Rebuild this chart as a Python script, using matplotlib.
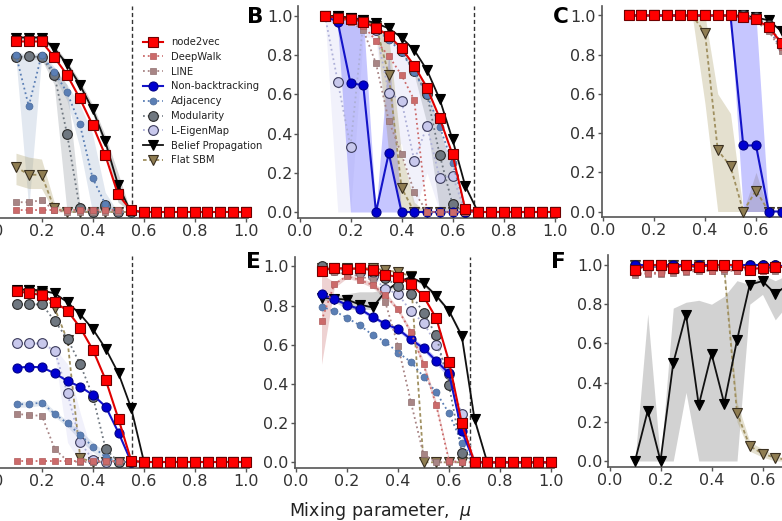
import numpy as np
import matplotlib
matplotlib.use("Agg")
import matplotlib.pyplot as plt

nan = float("nan")

# ---------------- data ----------------
mu = [0.10, 0.15, 0.20, 0.25, 0.30, 0.35, 0.40, 0.45, 0.50, 0.55,
      0.60, 0.65, 0.70, 0.75, 0.80, 0.85, 0.90, 0.95, 1.00]

methods = ["node2vec", "DeepWalk", "LINE", "Non-backtracking", "Adjacency",
           "Modularity", "L-EigenMap", "Belief Propagation", "Flat SBM"]

tick_values = [0.0, 0.2, 0.4, 0.6, 0.8, 1.0]
tick_labels = ["0.0", "0.2", "0.4", "0.6", "0.8", "1.0"]

# detectability limits (vertical dashed lines)
mu_star_top = [0.553, 0.684, 0.859]
mu_star_bottom = [0.553, 0.684, 0.859]

panel_A = {
    "node2vec": [0.87, 0.87, 0.87, 0.79, 0.70, 0.58, 0.445, 0.29, 0.09, 0.01] + [0.0] * 9,
    "DeepWalk": [0.01] * 10 + [0.0] * 9,
    "LINE": [0.05, 0.05, 0.06, 0.01, 0.0, 0.0, 0.0, 0.0, 0.0, 0.0] + [0.0] * 9,
    "Non-backtracking": [nan] * 19,
    "Adjacency": [0.80, 0.54, 0.80, 0.716, 0.61, 0.45, 0.175, 0.04, 0.0, 0.0] + [0.0] * 9,
    "Modularity": [0.79, 0.795, 0.79, 0.70, 0.40, 0.02, 0.0, 0.035, 0.0, 0.0] + [0.0] * 9,
    "L-EigenMap": [nan] * 19,
    "Belief Propagation": [0.89, 0.89, 0.89, 0.835, 0.755, 0.65, 0.525, 0.36, 0.14, 0.0] + [0.0] * 9,
    "Flat SBM": [0.23, 0.19, 0.19, 0.02, 0.0, 0.0, 0.0, 0.0, 0.0, 0.0] + [0.0] * 9,
}
bands_A = {
    "Adjacency": ([0.78, 0.02, 0.78, 0.69, 0.57, 0.33, 0.0, 0.0, 0.0, 0.0] + [0.0] * 9,
                  [0.82, 0.80, 0.82, 0.74, 0.65, 0.55, 0.40, 0.10, 0.0, 0.0] + [0.0] * 9),
    "Modularity": ([0.78, 0.78, 0.78, 0.65, 0.0, 0.0, 0.0, 0.0, 0.0, 0.0] + [0.0] * 9,
                   [0.80, 0.80, 0.80, 0.73, 0.65, 0.05, 0.0, 0.06, 0.0, 0.0] + [0.0] * 9),
    "Flat SBM": ([0.14, 0.12, 0.12, 0.0, 0.0, 0.0, 0.0, 0.0, 0.0, 0.0] + [0.0] * 9,
                 [0.30, 0.28, 0.27, 0.05, 0.0, 0.0, 0.0, 0.0, 0.0, 0.0] + [0.0] * 9),
    "Belief Propagation": ([0.88, 0.88, 0.88, 0.82, 0.74, 0.63, 0.50, 0.33, 0.05, 0.0] + [0.0] * 9,
                           [0.90, 0.90, 0.90, 0.85, 0.77, 0.67, 0.55, 0.39, 0.20, 0.0] + [0.0] * 9),
}

panel_B = {
    "node2vec": [1.0, 0.99, 0.985, 0.97, 0.94, 0.90, 0.835, 0.747, 0.634, 0.478, 0.294, 0.015] + [0.0] * 7,
    "DeepWalk": [1.0, 0.99, 0.97, 0.95, 0.874, 0.796, 0.699, 0.571, 0.0, 0.0, 0.0, 0.0] + [0.0] * 7,
    "LINE": [1.0, 0.99, 0.97, 0.929, 0.758, 0.466, 0.295, 0.104, 0.0, 0.0, 0.0, 0.0] + [0.0] * 7,
    "Non-backtracking": [1.0, 0.97, 0.656, 0.648, 0.0, 0.30, 0.0, 0.0, 0.0, 0.0, 0.0, 0.0] + [0.0] * 7,
    "Adjacency": [1.0, 0.99, 0.98, 0.96, 0.93, 0.88, 0.815, 0.716, 0.597, 0.435, 0.25, 0.02] + [0.0] * 7,
    "Modularity": [1.0, 0.99, 0.98, 0.97, 0.94, 0.89, 0.82, 0.72, 0.60, 0.29, 0.04, 0.0] + [0.0] * 7,
    "L-EigenMap": [1.0, 0.665, 0.333, 0.97, 0.93, 0.609, 0.568, 0.262, 0.439, 0.172, 0.185, 0.0] + [0.0] * 7,
    "Belief Propagation": [1.0, 1.0, 0.99, 0.98, 0.963, 0.937, 0.89, 0.826, 0.724, 0.575, 0.37, 0.133] + [0.0] * 7,
    "Flat SBM": [1.0, 1.0, 0.99, 0.98, 0.95, 0.70, 0.124, 0.0, 0.0, 0.0, 0.0, 0.0] + [0.0] * 7,
}
bands_B = {
    "Non-backtracking": ([1.0, 0.94, 0.0, 0.0, 0.0, 0.0, 0.0, 0.0, 0.0, 0.0, 0.0, 0.0] + [0.0] * 7,
                         [1.0, 1.0, 1.0, 1.0, 0.0, 0.82, 0.0, 0.0, 0.0, 0.0, 0.0, 0.0] + [0.0] * 7),
    "L-EigenMap": ([1.0, 0.0, 0.0, 0.90, 0.88, 0.30, 0.35, 0.0, 0.20, 0.0, 0.0, 0.0] + [0.0] * 7,
                   [1.0, 1.0, 1.0, 1.0, 0.97, 0.90, 0.82, 0.72, 0.60, 0.43, 0.30, 0.0] + [0.0] * 7),
    "Modularity": ([1.0, 0.99, 0.98, 0.97, 0.94, 0.89, 0.82, 0.70, 0.45, 0.0, 0.0, 0.0] + [0.0] * 7,
                   [1.0, 0.99, 0.98, 0.97, 0.94, 0.89, 0.82, 0.74, 0.65, 0.42, 0.22, 0.0] + [0.0] * 7),
    "Flat SBM": ([1.0, 1.0, 0.99, 0.98, 0.95, 0.30, 0.0, 0.0, 0.0, 0.0, 0.0, 0.0] + [0.0] * 7,
                 [1.0, 1.0, 0.99, 0.98, 0.95, 0.90, 0.30, 0.05, 0.0, 0.0, 0.0, 0.0] + [0.0] * 7),
}

panel_C = {
    "node2vec": [1.0] * 9 + [0.99, 0.98, 0.94, 0.86, 0.70, 0.45, 0.15, 0.0, 0.0, 0.0],
    "DeepWalk": [1.0] * 9 + [0.99, 0.97, 0.93, 0.84, 0.65, 0.40, 0.10, 0.0, 0.0, 0.0],
    "LINE": [1.0] * 9 + [0.99, 0.97, 0.92, 0.82, 0.60, 0.35, 0.10, 0.0, 0.0, 0.0],
    "Non-backtracking": [1.0] * 9 + [0.337, 0.337, 0.0, 0.0, 0.0, 0.0, 0.0, 0.0, 0.0, 0.0],
    "Adjacency": [1.0] * 9 + [1.0, 0.98, 0.93, 0.83, 0.65, 0.40, 0.12, 0.0, 0.0, 0.0],
    "Modularity": [1.0] * 9 + [1.0, 0.99, 0.95, 0.86, 0.70, 0.45, 0.15, 0.0, 0.0, 0.0],
    "L-EigenMap": [1.0] * 9 + [1.0, 0.98, 0.94, 0.85, 0.68, 0.42, 0.12, 0.0, 0.0, 0.0],
    "Belief Propagation": [1.0] * 9 + [1.0, 0.99, 0.975, 0.92, 0.80, 0.60, 0.30, 0.05, 0.0, 0.0],
    "Flat SBM": [1.0] * 6 + [0.912, 0.313, 0.231, 0.0, 0.107, 0.0, 0.0, 0.0, 0.0, 0.0, 0.0, 0.0, 0.0],
}
bands_C = {
    "Flat SBM": ([1.0] * 6 + [0.55, 0.0, 0.0, 0.0, 0.0, 0.0, 0.0, 0.0, 0.0, 0.0, 0.0, 0.0, 0.0],
                 [1.0] * 6 + [1.0, 0.60, 0.50, 0.0, 0.20, 0.0, 0.0, 0.0, 0.0, 0.0, 0.0, 0.0, 0.0]),
    "Non-backtracking": ([1.0] * 9 + [0.0, 0.0, 0.0, 0.0, 0.0, 0.0, 0.0, 0.0, 0.0, 0.0],
                         [1.0] * 9 + [1.0, 1.0, 0.0, 0.0, 0.0, 0.0, 0.0, 0.0, 0.0, 0.0]),
}

panel_D = {
    "node2vec": [0.872, 0.861, 0.852, 0.815, 0.772, 0.685, 0.571, 0.418, 0.219, 0.007] + [0.0] * 9,
    "DeepWalk": [0.005] * 10 + [0.0] * 9,
    "LINE": [0.245, 0.24, 0.235, 0.066, 0.005, 0.0, 0.0, 0.0, 0.0, 0.0] + [0.0] * 9,
    "Non-backtracking": [0.481, 0.486, 0.483, 0.452, 0.413, 0.384, 0.342, 0.282, 0.15, 0.0] + [0.0] * 9,
    "Adjacency": [0.294, 0.296, 0.303, 0.245, 0.197, 0.138, 0.078, 0.024, 0.0, 0.0] + [0.0] * 9,
    "Modularity": [0.804, 0.804, 0.804, 0.719, 0.628, 0.498, 0.333, 0.065, 0.0, 0.0] + [0.0] * 9,
    "L-EigenMap": [0.605, 0.605, 0.605, 0.568, 0.35, 0.10, 0.01, 0.0, 0.0, 0.0] + [0.0] * 9,
    "Belief Propagation": [0.88, 0.88, 0.875, 0.86, 0.815, 0.753, 0.677, 0.577, 0.452, 0.274] + [0.0] * 9,
    "Flat SBM": [0.87, 0.88, 0.86, 0.784, 0.62, 0.02, 0.0, 0.0, 0.0, 0.0] + [0.0] * 9,
}
bands_D = {
    "L-EigenMap": ([0.60, 0.60, 0.60, 0.55, 0.10, 0.0, 0.0, 0.0, 0.0, 0.0] + [0.0] * 9,
                   [0.61, 0.61, 0.61, 0.58, 0.50, 0.25, 0.03, 0.0, 0.0, 0.0] + [0.0] * 9),
    "Adjacency": ([0.28, 0.28, 0.29, 0.23, 0.18, 0.11, 0.05, 0.0, 0.0, 0.0] + [0.0] * 9,
                  [0.31, 0.31, 0.32, 0.26, 0.21, 0.16, 0.10, 0.05, 0.0, 0.0] + [0.0] * 9),
}

panel_E = {
    "node2vec": [0.976, 0.993, 0.985, 0.99, 0.98, 0.956, 0.947, 0.91, 0.847, 0.735, 0.514, 0.20, 0.0] + [0.0] * 6,
    "DeepWalk": [0.722, 0.908, 0.95, 0.93, 0.905, 0.853, 0.78, 0.666, 0.50, 0.29, 0.008, 0.0, 0.0] + [0.0] * 6,
    "LINE": [0.976, 0.97, 0.96, 0.95, 0.93, 0.818, 0.595, 0.31, 0.04, 0.0, 0.0, 0.0, 0.0] + [0.0] * 6,
    "Non-backtracking": [0.857, 0.833, 0.803, 0.782, 0.743, 0.706, 0.68, 0.628, 0.582, 0.517, 0.454, 0.16, 0.0] + [0.0] * 6,
    "Adjacency": [0.794, 0.772, 0.737, 0.699, 0.65, 0.615, 0.56, 0.513, 0.437, 0.357, 0.25, 0.10, 0.0] + [0.0] * 6,
    "Modularity": [1.0, 0.99, 0.99, 0.985, 0.97, 0.939, 0.90, 0.86, 0.764, 0.647, 0.392, 0.05, 0.0] + [0.0] * 6,
    "L-EigenMap": [0.98, 0.98, 0.98, 0.97, 0.95, 0.884, 0.86, 0.77, 0.713, 0.60, 0.45, 0.245, 0.0] + [0.0] * 6,
    "Belief Propagation": [0.84, 0.835, 0.83, 0.805, 0.79, 0.87, 0.92, 0.945, 0.913, 0.85, 0.773, 0.645, 0.22] + [0.0] * 6,
    "Flat SBM": [0.99, 0.99, 0.99, 0.99, 0.99, 0.98, 0.97, 0.95, 0.0, 0.0, 0.0, 0.0, 0.0] + [0.0] * 6,
}
bands_E = {
    "DeepWalk": ([0.50, 0.89, 0.94, 0.92, 0.89, 0.84, 0.77, 0.65, 0.48, 0.27, 0.0, 0.0, 0.0] + [0.0] * 6,
                 [0.96, 0.92, 0.96, 0.94, 0.92, 0.87, 0.79, 0.68, 0.52, 0.31, 0.02, 0.0, 0.0] + [0.0] * 6),
    "Belief Propagation": ([0.83, 0.82, 0.78, 0.78, 0.78, 0.86, 0.91, 0.94, 0.90, 0.84, 0.76, 0.63, 0.20] + [0.0] * 6,
                           [0.85, 0.85, 0.86, 0.87, 0.87, 0.88, 0.93, 0.95, 0.92, 0.86, 0.78, 0.66, 0.24] + [0.0] * 6),
    "Non-backtracking": ([0.85, 0.825, 0.795, 0.772, 0.733, 0.696, 0.668, 0.615, 0.568, 0.50, 0.43, 0.13, 0.0] + [0.0] * 6,
                         [0.865, 0.841, 0.811, 0.792, 0.753, 0.716, 0.692, 0.641, 0.596, 0.534, 0.478, 0.19, 0.0] + [0.0] * 6),
}

panel_F = {
    "node2vec": [0.974, 1.0, 1.0, 0.986, 1.0, 0.99, 1.0, 1.0, 1.0, 0.977, 0.986, 0.99, 0.99, 0.99, 0.98, 0.97, 0.95, 0.93, 0.90],
    "DeepWalk": [0.957, 0.96, 0.96, 0.97, 0.97, 0.98, 0.97, 0.98, 0.97, 0.98, 0.97, 0.98, 0.97, 0.96, 0.95, 0.93, 0.91, 0.88, 0.85],
    "LINE": [0.95, 0.955, 0.955, 0.96, 0.965, 0.97, 0.97, 0.97, 0.97, 0.97, 0.97, 0.97, 0.96, 0.95, 0.93, 0.91, 0.88, 0.85, 0.82],
    "Non-backtracking": [1.0] * 12 + [0.99, 0.99, 0.98, 0.97, 0.95, 0.93, 0.90],
    "Adjacency": [0.99] * 11 + [0.975, 0.97, 0.96, 0.95, 0.93, 0.90, 0.87, 0.83],
    "Modularity": [1.0] * 12 + [0.99, 0.99, 0.98, 0.97, 0.95, 0.93, 0.90],
    "L-EigenMap": [0.99] * 12 + [0.98, 0.97, 0.96, 0.95, 0.93, 0.90, 0.87],
    "Belief Propagation": [0.0, 0.257, 0.0, 0.50, 0.747, 0.285, 0.547, 0.293, 0.616, 0.90, 0.918, 0.853, 0.90, 0.92, 0.93, 0.95, 0.97, 0.98, 0.99],
    "Flat SBM": [1.0, 1.0, 1.0, 1.0, 1.0, 1.0, 1.0, 0.98, 0.246, 0.076, 0.038, 0.016, 0.005] + [0.0] * 6,
}
bands_F = {
    "Belief Propagation": ([0.0, 0.0, 0.0, 0.0, 0.35, 0.0, 0.0, 0.0, 0.0, 0.80, 0.85, 0.72, 0.80, 0.85, 0.88, 0.90, 0.93, 0.95, 0.97],
                           [0.0, 0.75, 0.0, 0.78, 0.81, 0.82, 0.80, 0.84, 0.92, 0.90, 0.95, 0.92, 0.95, 0.96, 0.97, 0.98, 0.99, 1.0, 1.0]),
    "Flat SBM": ([1.0, 1.0, 1.0, 1.0, 1.0, 1.0, 1.0, 0.96, 0.20, 0.05, 0.02, 0.0, 0.0] + [0.0] * 6,
                 [1.0, 1.0, 1.0, 1.0, 1.0, 1.0, 1.0, 1.0, 0.30, 0.10, 0.06, 0.03, 0.01] + [0.0] * 6),
}

# ---------------- styles ----------------
styles = {
    "node2vec": dict(color="#e00000", ls="-", lw=1.5, marker="s", ms=7.5, mfc="#ff0000", mec="#700000", mew=0.8),
    "DeepWalk": dict(color="#cc6a6a", ls=":", lw=1.3, marker="s", ms=5.0, mfc="#cc6a6a", mec="#b05a5a", mew=0.5),
    "LINE": dict(color="#a88585", ls=":", lw=1.3, marker="s", ms=5.0, mfc="#a88585", mec="#907070", mew=0.5),
    "Non-backtracking": dict(color="#1414c8", ls="-", lw=1.5, marker="o", ms=6.5, mfc="#0000d0", mec="#00008a", mew=0.8),
    "Adjacency": dict(color="#5b7fb5", ls=":", lw=1.3, marker="o", ms=5.0, mfc="#5b7fb5", mec="#4a6a9a", mew=0.5),
    "Modularity": dict(color="#6f7780", ls=":", lw=1.3, marker="o", ms=7.0, mfc="#6f7780", mec="#2a2a2a", mew=0.8),
    "L-EigenMap": dict(color="#aeb0d8", ls=":", lw=1.3, marker="o", ms=7.0, mfc="#c8c8ec", mec="#3a3a5a", mew=0.8),
    "Belief Propagation": dict(color="#111111", ls="-", lw=1.3, marker="v", ms=7.5, mfc="#000000", mec="#000000", mew=0.8),
    "Flat SBM": dict(color="#a09060", ls=(0, (2, 1.5)), lw=1.3, marker="v", ms=7.5, mfc="#8f7d52", mec="#3a3020", mew=0.8),
}
band_colors = {
    "node2vec": ("#ff0000", 0.15),
    "DeepWalk": ("#d08080", 0.35),
    "LINE": ("#a08080", 0.25),
    "Non-backtracking": ("#3333ff", 0.28),
    "Adjacency": ("#6080b0", 0.18),
    "Modularity": ("#606a74", 0.22),
    "L-EigenMap": ("#9090e0", 0.12),
    "Belief Propagation": ("#606060", 0.28),
    "Flat SBM": ("#a89a60", 0.30),
}

# ---------------- layout (pixel geometry) ----------------
W, H = 782, 521
fig = plt.figure(figsize=(W / 100, H / 100), dpi=100)

XS, YS = 255.0, 196.0
XLIM = (-0.005, 1.01)
YLIM = (-0.03, 1.05)


def add_ax(x0, y0):
    left = x0 + XLIM[0] * XS
    width = (XLIM[1] - XLIM[0]) * XS
    top = y0 - YLIM[1] * YS
    bottom = y0 - YLIM[0] * YS
    return fig.add_axes([left / W, (H - bottom) / H, width / W, (bottom - top) / H])


panels = [
    (panel_A, bands_A, (-9.5, 212.0), mu_star_top[0]),
    (panel_B, bands_B, (299.5, 212.0), mu_star_top[1]),
    (panel_C, bands_C, (603.0, 211.5), mu_star_top[2]),
    (panel_D, bands_D, (-9.0, 462.0), mu_star_bottom[0]),
    (panel_E, bands_E, (296.0, 462.3), mu_star_bottom[1]),
    (panel_F, bands_F, (609.5, 461.0), mu_star_bottom[2]),
]

x = np.array(mu)
axes = []
for data, bands, (x0, y0), mstar in panels:
    ax = add_ax(x0, y0)
    axes.append(ax)
    for name, (lo, hi) in bands.items():
        c, a = band_colors[name]
        ax.fill_between(x, lo, hi, color=c, alpha=a, lw=0, zorder=1)
    # draw in reverse order so node2vec is on top
    for i, name in enumerate(reversed(methods)):
        ax.plot(x, np.array(data[name], dtype=float), label=name, clip_on=False,
                zorder=3 + i, **styles[name])
    ax.axvline(mstar, color="#333333", ls=(0, (3, 2)), lw=1.0, zorder=2)
    ax.set_xlim(*XLIM)
    ax.set_ylim(*YLIM)
    ax.set_xticks(tick_values)
    ax.set_yticks(tick_values)
    # label only the ticks that are (at least partly) inside the cropped picture
    xl = [lab if (x0 + v * XS) > -20 and (x0 + v * XS - 12) <= W else ""
          for v, lab in zip(tick_values, tick_labels)]
    ax.set_xticklabels(xl)
    ax.set_yticklabels(tick_labels if x0 > 100 else [""] * 6)
    for s in ("top", "right"):
        ax.spines[s].set_visible(False)
    for s in ("left", "bottom"):
        ax.spines[s].set_color("#555555")
        ax.spines[s].set_linewidth(1.2)
    ax.tick_params(direction="out", length=2.8, width=1.0, color="#555555",
                   labelcolor="#333333", labelsize=11.5, pad=1.5)
    ax.patch.set_alpha(0)

# legend in panel A
handles, labels = axes[0].get_legend_handles_labels()
order = [labels.index(m) for m in methods]
leg = axes[0].legend([handles[i] for i in order], [labels[i] for i in order],
                     loc="upper left", bbox_to_anchor=(139 / W, 1 - 33.0 / H),
                     bbox_transform=fig.transFigure, frameon=False, fontsize=7.2,
                     labelspacing=0.48, borderaxespad=0, handlelength=2.0,
                     handletextpad=0.8, borderpad=0.4)
leg.set_zorder(50)
for t in leg.get_texts():
    t.set_color("#222222")

# panel letters
for letter, px, py in [("B", 247, 23), ("C", 553, 23), ("E", 246, 268), ("F", 551, 268)]:
    fig.text(px / W, 1 - py / H, letter, fontsize=15.5, fontweight="bold",
             ha="left", va="baseline", color="black")

fig.text(381 / W, 1 - 516.5 / H, "Mixing parameter,  $\\mu$", fontsize=12.5,
         ha="center", va="baseline", color="#222222")

fig.savefig("out.png", dpi=100)
